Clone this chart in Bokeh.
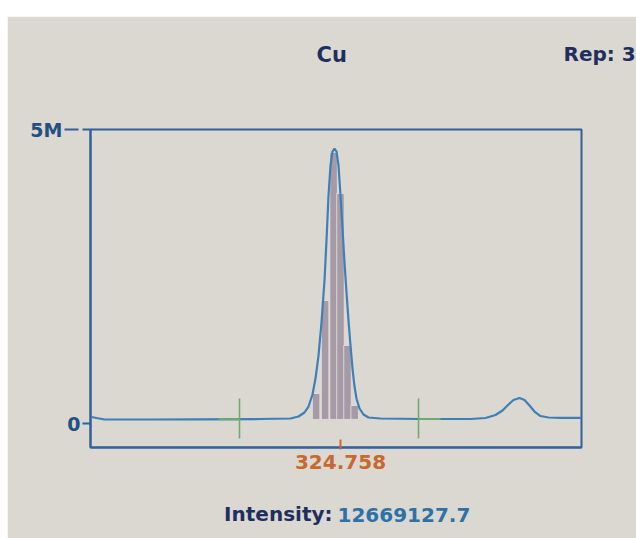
from bokeh.plotting import figure
from bokeh.models import Range1d, LinearAxis, FixedTicker, BasicTickFormatter, Title
from bokeh.embed import file_html
from bokeh.resources import INLINE

# ---- data (wavelength in nm, intensity in counts) ----
wavelength = [324.7082, 324.7092, 324.7108, 324.7200, 324.7300, 324.7420, 324.7480,
              324.7496, 324.7508, 324.7516, 324.7524, 324.7530, 324.7536, 324.7542,
              324.7548, 324.7552, 324.7556, 324.7560, 324.7564, 324.7568, 324.7572,
              324.7576, 324.7580, 324.7584, 324.7588, 324.7592, 324.7596, 324.7600,
              324.7604, 324.7608, 324.7612, 324.7618, 324.7626, 324.7636, 324.7660,
              324.7740, 324.7840, 324.7870, 324.7890, 324.7904, 324.7916, 324.7926,
              324.7938, 324.7948, 324.7958, 324.7968, 324.7980, 324.7996, 324.8020,
              324.8062]
intensity = [110500, 93500, 68000, 68000, 71400, 76500, 85000,
             119000, 187000, 289000, 493000, 765000, 1156000, 1718000,
             2432000, 3112000, 3878000, 4388000, 4626000, 4677000, 4626000,
             4388000, 3878000, 3316000, 2738000, 2228000, 1752000, 1327000,
             935000, 629000, 425000, 255000, 153000, 102000, 85000,
             76500, 76500, 93500, 144600, 221000, 323000, 400000,
             434000, 400000, 306000, 204000, 127600, 102000, 97000,
             97000]

bar_wavelength = [324.75312, 324.75492, 324.75662, 324.75800, 324.75940, 324.76084]
bar_intensity = [510000, 2092000, 4609000, 3912000, 1327000, 306000]
bar_base = 70000
bar_width_nm = 0.00150

marker_wavelength = [324.7378, 324.7736]
marker_low = [-255000, -255000]
marker_high = [425000, 425000]

bg_start = [324.7336, 324.7736]
bg_end = [324.7378, 324.7780]
bg_level = [72000, 76500]

x_ticks = [324.758]
y_ticks = [0, 5000000]

element = "Cu"
rep_text = "Rep: 3"
intensity_label = "Intensity:"
intensity_value = "12669127.7"

# ---- styling ----
BG = "#dbd7d1"
FRAME = "#30619a"
CURVE = "#3d7fb8"
BAR = "#a59aa5"
GREEN = "#6dab70"
ORANGE = "#c8682f"
NAVY = "#1e2f5e"
TICKBLUE = "#234f82"
VALBLUE = "#2c72a8"
FONT = "DejaVu Sans"

p = figure(width=629, height=522, title=None,
           x_range=Range1d(324.708, 324.8062), y_range=Range1d(-408000, 5000000),
           output_backend="svg", toolbar_location=None,
           min_border_left=83, min_border_right=55, min_border_top=113, min_border_bottom=91,
           margin=(16, 0, 0, 7))
p.background_fill_color = BG
p.border_fill_color = BG
p.xgrid.visible = False
p.ygrid.visible = False
p.outline_line_color = FRAME
p.outline_line_width = 2

# x axis
xa = p.xaxis[0]
xa.ticker = FixedTicker(ticks=x_ticks)
xa.formatter = BasicTickFormatter(precision=3, use_scientific=False)
xa.minor_tick_line_color = None
xa.axis_line_color = FRAME
xa.axis_line_width = 2
xa.major_tick_line_color = ORANGE
xa.major_tick_line_width = 2
xa.major_tick_in = 8
xa.major_tick_out = 2
xa.major_label_standoff = 5
xa.major_label_text_color = ORANGE
xa.major_label_text_font = FONT
xa.major_label_text_font_style = "bold"
xa.major_label_text_font_size = "20px"

# y axis (inner, carries "0")
ya = p.yaxis[0]
ya.ticker = FixedTicker(ticks=y_ticks)
ya.major_label_overrides = {0: "0", 5000000: ""}
ya.minor_tick_line_color = None
ya.axis_line_color = FRAME
ya.axis_line_width = 2
ya.major_tick_line_color = FRAME
ya.major_tick_line_width = 2
ya.major_tick_in = 0
ya.major_tick_out = 8
ya.major_label_standoff = 2
ya.major_label_text_color = TICKBLUE
ya.major_label_text_font = FONT
ya.major_label_text_font_style = "bold"
ya.major_label_text_font_size = "19px"

# outer y axis carrying "5M"
yb = LinearAxis(ticker=FixedTicker(ticks=[y_ticks[1]]),
                major_label_overrides={5000000: "5M"})
yb.axis_line_color = None
yb.minor_tick_line_color = None
yb.major_tick_line_color = FRAME
yb.major_tick_line_width = 2
yb.major_tick_in = 14
yb.major_tick_out = 0
yb.major_label_standoff = 2
yb.major_label_text_color = TICKBLUE
yb.major_label_text_font = FONT
yb.major_label_text_font_style = "bold"
yb.major_label_text_font_size = "19px"
p.add_layout(yb, "left")

# marks
p.vbar(x=bar_wavelength, top=bar_intensity, bottom=bar_base, width=bar_width_nm,
       fill_color=BAR, line_color="#e6e2de", line_width=0.8)
p.line(wavelength, intensity, line_color=CURVE, line_width=2.2)
p.segment(x0=bg_start, y0=bg_level, x1=bg_end, y1=bg_level, line_color=GREEN, line_width=2)
p.segment(x0=marker_wavelength, y0=marker_low, x1=marker_wavelength, y1=marker_high,
          line_color=GREEN, line_width=1.6)

# ---- texts as titles in the side panels ----
EM = 1.164  # DejaVu Sans ascent+descent per em
SPACER_TICK = 324.72  # a place above/below the frame where nothing else is drawn

def spacer(px, side):
    # an unlabelled axis whose almost transparent tick only takes up room in a side panel
    ax = LinearAxis(ticker=FixedTicker(ticks=[SPACER_TICK]), axis_line_color=None,
                    major_tick_line_color=BG, major_tick_line_alpha=0.02,
                    major_tick_line_width=1, minor_tick_line_color=None,
                    major_tick_in=0, major_tick_out=px, major_label_standoff=0,
                    major_label_overrides={SPACER_TICK: ""},
                    major_label_text_font_size="0px")
    p.add_layout(ax, side)

def ttl(text, color, size, align, offset, standoff, side):
    t = Title(text=text, text_color=color, text_font=FONT, text_font_style="bold",
              text_font_size=f"{size}px", align=align, offset=offset, standoff=standoff,
              vertical_align="top")
    p.add_layout(t, side)

def zero(size):
    return -(2 + EM * size)

spacer(73, "above")
ttl(element, NAVY, 21, "left", 226, zero(21), "above")
ttl(rep_text, NAVY, 20, "left", 473, zero(20) + 2, "above")

spacer(43, "below")
ttl(intensity_label, NAVY, 20, "right", 249, zero(20), "below")
ttl(intensity_value, VALBLUE, 20, "left", 247, zero(20) + 10, "below")

open("out.html", "w").write(file_html(p, INLINE))
